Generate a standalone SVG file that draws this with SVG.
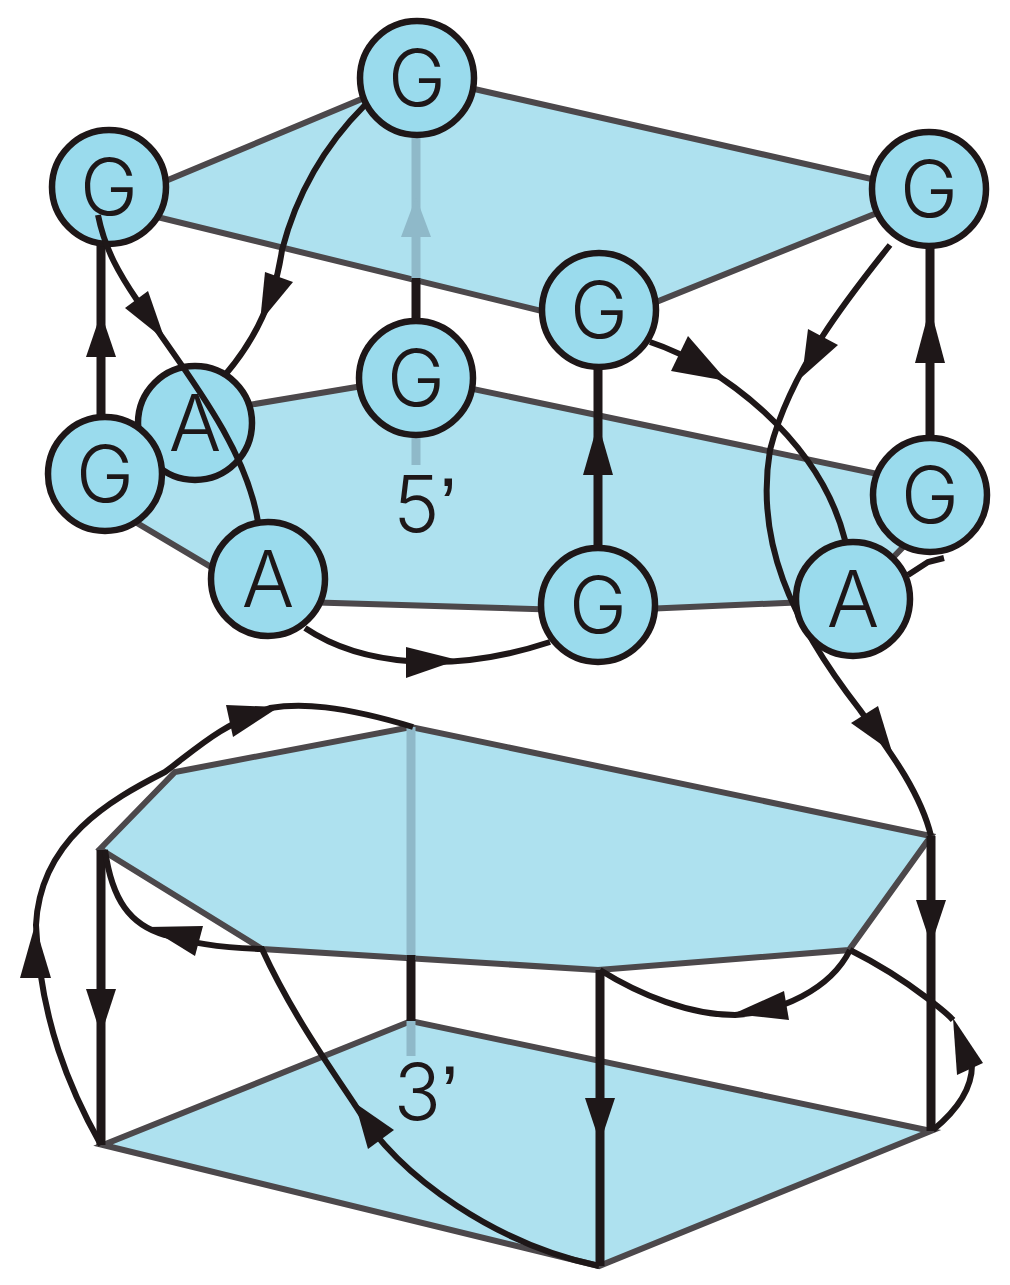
<svg xmlns="http://www.w3.org/2000/svg" width="1010" height="1285" viewBox="0 0 1010 1285">
<style>
.p{fill:#aee1ef;stroke:#4c484b;stroke-width:6;stroke-linejoin:miter}
.n circle{fill:#9adbed;stroke:#1e1718;stroke-width:6.5}
.n text,.t{font-family:Inter,"Liberation Sans",Arial,sans-serif;font-weight:300;font-size:78px;fill:#1e1718;text-anchor:middle}
.q{font-family:"Liberation Sans",Arial,sans-serif}
.c{fill:none;stroke:#1e1718;stroke-width:6}
.v{fill:none;stroke:#1e1718;stroke-width:9}
.h{fill:#1e1718}
.g{fill:none;stroke:#8fb9c9;stroke-width:9}
</style>
<rect width="1010" height="1285" fill="#fff"/>
<g id="planes">
<polygon class="p" points="108,205 417,76 929,192 599,325"/>
<polygon class="p" points="195,414 416,377 930,485 905,545 852,600 598,611 268,601 105,504"/>
<polygon class="p" points="100,849 175,772 411,727 931,836 849,950 598,970 262,949"/>
<polygon class="p" points="103,1145 411,1021 931,1131 599,1266"/>
</g>
<g id="connectors">
<path class="g" d="M416,130V280"/><polygon points="416,197 401,237 431,237" fill="#8fb9c9"/>
<path class="v" d="M416,278V325"/>
<path class="g" d="M416,430V465"/>
<path class="g" d="M411,727V960"/><path class="v" d="M411,955V1021"/><path class="g" d="M411,1021V1056"/>
<path class="v" d="M101,240V420"/><polygon class="h" points="101,313 86,357 116,357"/>
<path class="v" d="M598,365V550"/><polygon class="h" points="598,423 583,475 613,475"/>
<path class="v" d="M930,245V440"/><polygon class="h" points="930,307 915,363 945,363"/>
<path class="v" d="M101,850V1145"/><polygon class="h" points="101,1035 86,989 116,989"/>
<path class="v" d="M600,970V1266"/><polygon class="h" points="600,1143 585,1098 615,1098"/>
<path class="v" d="M931,836V1131"/><polygon class="h" points="931,945 916,900 946,900"/>
<path class="c" d="M365,105C320,150 295,200 282,250C275,300 255,340 225,375"/><polygon class="h" points="260,322 265,272 293,282"/>
<path class="c" d="M650,342C720,365 820,440 845,540"/><polygon class="h" points="727,381 688,336 671,371"/>
<path class="c" d="M890,245C850,295 790,370 770,450C755,540 790,620 860,710C885,745 920,790 931,836"/><polygon class="h" points="802,377 808,329 838,345"/>
<polygon class="h" points="892,752 851,723 878,706"/>
<path class="c" d="M305,628C360,665 450,675 550,642"/><polygon class="h" points="458,660 406,678 406,647"/>
<path class="c" d="M908,575L928,562L944,558"/>
<path class="c" d="M413,727C340,705 300,703 270,708C220,725 195,750 165,772C110,800 40,840 36,925C40,1020 70,1090 101,1145"/>
<polygon class="h" points="279,707 226,705 233,737"/>
<polygon class="h" points="35,925 20,978 51,978"/>
<path class="c" d="M105,850C112,900 130,925 165,935C195,945 230,948 262,949C290,1010 325,1060 355,1105C400,1180 500,1245 599,1266"/>
<polygon class="h" points="148,927 203,926 195,956"/>
<polygon class="h" points="355,1103 394,1130 368,1149"/>
<path class="c" d="M600,970C640,995 690,1015 735,1015C780,1012 830,990 850,950"/>
<polygon class="h" points="733,1014 784,991 789,1020"/>
<path class="c" d="M850,950C880,965 910,985 927,998C940,1008 948,1014 953,1020"/>
<path class="c" d="M972,1065C972,1090 955,1112 933,1130"/>
<polygon class="h" points="953,1018 983,1063 957,1075"/>
</g>
<g id="g1" class="n"><circle cx="109" cy="187" r="57"/><text x="109" y="215">G</text></g>
<g id="g2" class="n"><circle cx="417" cy="78" r="57"/><text x="417" y="106">G</text></g>
<g id="g3" class="n"><circle cx="929" cy="189" r="57"/><text x="929" y="217">G</text></g>
<g id="g4" class="n"><circle cx="599" cy="310" r="57"/><text x="599" y="338">G</text></g>
<g id="a1" class="n"><circle cx="195" cy="423" r="57"/><text x="195" y="451">A</text></g>
<g id="g6" class="n"><circle cx="416" cy="378" r="57"/><text x="416" y="406">G</text></g>
<g id="g7" class="n"><circle cx="930" cy="495" r="57"/><text x="930" y="523">G</text></g>
<g id="a2" class="n"><circle cx="268" cy="579" r="57"/><text x="268" y="607">A</text></g>
<g id="g8" class="n"><circle cx="598" cy="605" r="57"/><text x="598" y="633">G</text></g>
<g id="a3" class="n"><circle cx="853" cy="599" r="57"/><text x="853" y="627">A</text></g>
<path class="c" id="c-g1-a2" d="M98,215C105,250 120,275 137,300C175,360 245,440 258,522"/>
<polygon class="h" points="165,340 125,308 148,291"/>
<g id="g5" class="n"><circle cx="105" cy="474" r="57"/><text x="105" y="502">G</text></g>
<text class="t" x="425" y="532">5<tspan class="q">’</tspan></text>
<text class="t" x="426" y="1120">3<tspan class="q">’</tspan></text>
</svg>
